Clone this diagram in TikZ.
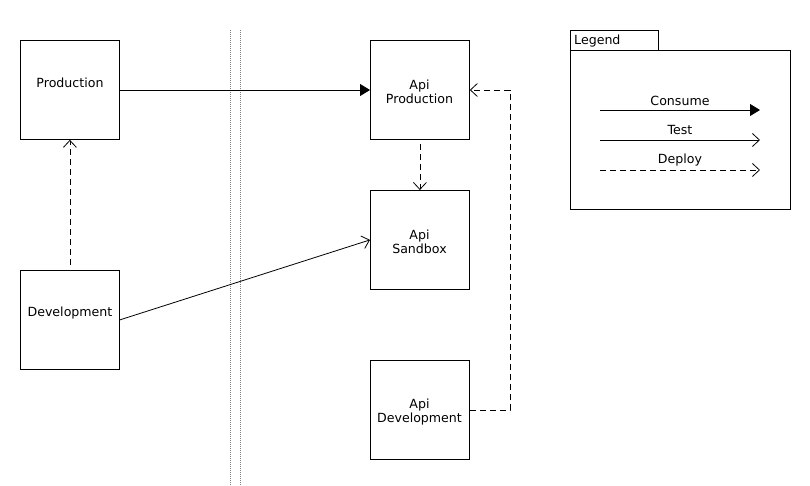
\documentclass[tikz,border=0pt]{standalone}
\usepackage{fontspec}
\setmainfont{DejaVu Sans}
\usetikzlibrary{arrows.meta}
\tikzset{
  box/.style={draw, line width=0.8bp, minimum width=99bp, minimum height=99bp, inner sep=0pt, anchor=north west},
  txt/.style={font=\fontsize{12.6bp}{14.5bp}\selectfont, align=center, inner sep=0pt},
  consume/.style={line width=0.8bp, -{Triangle[length=10bp,width=12bp]}},
  test/.style={line width=0.8bp, -{Straight Barb[length=7bp,width=13bp,line width=0.8bp]}},
  deploy/.style={line width=0.8bp, dash pattern=on 6bp off 4bp, -{Straight Barb[length=7bp,width=13bp,line width=0.8bp]}},
  sep/.style={gray, line width=0.6bp, dash pattern=on 1bp off 1bp},
}
\begin{document}
\begin{tikzpicture}[x=1bp,y=-1bp]
\useasboundingbox (0,0) rectangle (810,486);
% separator lines
\coordinate (s1t) at (230,30); \coordinate (s1b) at (230,486);
\coordinate (s2t) at (240,30); \coordinate (s2b) at (240,486);
\draw[sep] (s1t) -- (s1b);
\draw[sep] (s2t) -- (s2b);
% boxes
\node[box] (prod) at (20,40) {};
\node[box] (dev) at (20,270) {};
\node[box] (apiprod) at (370,40) {};
\node[box] (apisand) at (370,190) {};
\node[box] (apidev) at (370,360) {};
% texts
\node[txt] (tprod) at (70,83) {Production};
\node[txt] (tdev) at (70,313) {Development};
\node[txt] (tapiprod) at (419.5,92) {Api\\Production};
\node[txt] (tapisand) at (419.5,242) {Api\\Sandbox};
\node[txt] (tapidev) at (419.5,412) {Api\\Development};
% connectors
\draw[consume] (prod.east |- 0,90) -- (apiprod.west |- 0,90);
\draw[deploy] ([yshift=-4bp]apiprod.south) -- (apisand.north);
\draw[deploy] ([yshift=5bp]dev.north) -- (prod.south);
\draw[test] (dev.east) -- (apisand.west);
\coordinate (c1) at (510,410);
\coordinate (c2) at (510,90);
\draw[deploy] (apidev.east |- c1) -- (c1) -- (c2) -- (apiprod.east |- c2);
% legend
\node[draw, line width=0.8bp, minimum width=88bp, minimum height=20bp, anchor=north west, inner sep=0pt] (ltab) at (570,30) {};
\node[txt, anchor=west] (ltabtxt) at (574,41) {Legend};
\node[draw, line width=0.8bp, minimum width=220bp, minimum height=159bp, anchor=north west, inner sep=0pt] (lbody) at (570,50) {};
\coordinate (a1) at (600,110); \coordinate (b1) at (760,110);
\coordinate (a2) at (600,140); \coordinate (b2) at (760,140);
\coordinate (a3) at (600,170); \coordinate (b3) at (760,170);
\draw[consume] (a1) -- (b1);
\draw[test] (a2) -- (b2);
\draw[deploy] (a3) -- (b3);
\node[txt] (lc) at (680,101) {Consume};
\node[txt] (lt) at (680,130) {Test};
\node[txt] (ld) at (680,160) {Deploy};
\end{tikzpicture}
\end{document}
